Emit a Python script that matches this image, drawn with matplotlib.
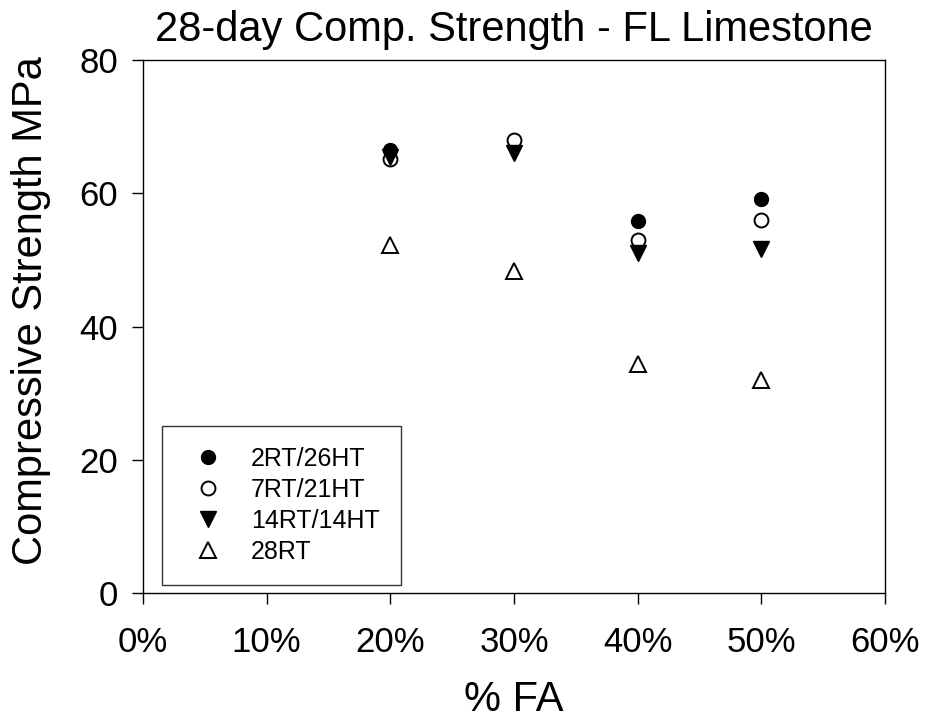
import matplotlib
matplotlib.use('Agg')
import matplotlib.pyplot as plt
import numpy as np
from matplotlib.ticker import PercentFormatter

# % fly ash replacement
fa = [0.20, 0.30, 0.40, 0.50]
# compressive strength, MPa (28-day, curing regimes)
rt2_ht26 = [66.5, np.nan, 55.8, 59.2]
rt7_ht21 = [65.2, 68.0, 53.0, 56.0]
rt14_ht14 = [65.5, 66.0, 51.0, 51.7]
rt28 = [52.2, 48.3, 34.3, 32.0]

plt.rcParams['font.family'] = ['Liberation Sans', 'DejaVu Sans']

fig = plt.figure(figsize=(9.42, 7.24), dpi=100)
ax = fig.add_axes([143/942, 1 - 593/724, 742/942, 533/724])

ax.plot(fa, rt2_ht26, 'o', color='black', ms=10, label='2RT/26HT', clip_on=False)
ax.plot(fa, rt7_ht21, 'o', mfc='white', mec='black', mew=1.4, ms=10, label='7RT/21HT', clip_on=False)
ax.plot(fa, rt14_ht14, 'v', color='black', ms=12, label='14RT/14HT', clip_on=False)
ax.plot(fa, rt28, '^', mfc='white', mec='black', mew=1.4, ms=11, label='28RT', clip_on=False)

ax.set_xlim(0, 0.6)
ax.set_ylim(0, 80)
ax.set_xticks(np.arange(0, 0.61, 0.1))
ax.set_yticks([0, 20, 40, 60, 80])
ax.xaxis.set_major_formatter(PercentFormatter(1.0, decimals=0))
ax.tick_params(direction='out', length=8, width=1, labelsize=25, pad=16)
ax.tick_params(axis='y', pad=10)
for s in ax.spines.values():
    s.set_linewidth(1)

ax.set_title('28-day Comp. Strength - FL Limestone', fontsize=30, pad=14)
ax.set_xlabel('% FA', fontsize=30, labelpad=15)
ax.set_ylabel('Compressive Strength MPa', fontsize=30, labelpad=20)
ax.yaxis.label.set_y(0.53)

leg = ax.legend(loc='lower left', bbox_to_anchor=(19/742, 8/533), fontsize=18,
                frameon=True, fancybox=False, edgecolor='black', borderpad=0.85,
                labelspacing=0.28, handletextpad=0.7, borderaxespad=0)
leg.get_frame().set_linewidth(1)

plt.savefig('out.png', dpi=100)
